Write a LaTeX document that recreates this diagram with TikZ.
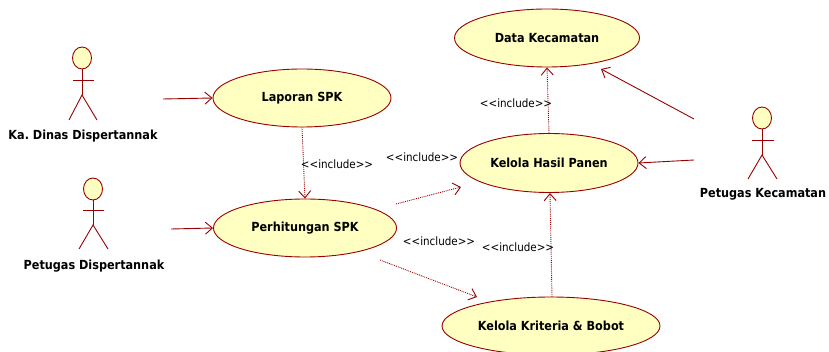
\documentclass[tikz,border=0pt]{standalone}
\usepackage{fontspec}
\setmainfont{DejaVu Sans Condensed}[Ligatures=NoCommon]
\usetikzlibrary{shapes.geometric,arrows.meta}
\definecolor{umlline}{RGB}{153,0,0}
\definecolor{umlfill}{RGB}{255,255,194}
\newcommand{\incltext}{\textless{}\textless{}include\textgreater{}\textgreater{}}
\frenchspacing
\tikzset{
  usecase/.style={ellipse,draw=umlline,fill=umlfill,line width=0.9pt,inner sep=0pt,font=\bfseries\fontsize{12.5}{14}\selectfont},
  assoc/.style={draw=umlline,line width=0.9pt,-{Straight Barb[length=7pt,width=12pt,line width=0.9pt]}},
  incl/.style={draw=umlline,line width=0.9pt,densely dotted,-{Straight Barb[length=7pt,width=12pt,line width=0.9pt]}},
  incllabel/.style={font=\fontsize{11.5}{13}\selectfont,inner sep=0pt},
  actorlabel/.style={font=\bfseries\fontsize{12.5}{14}\selectfont,inner sep=0pt},
  actorhead/.style={ellipse,draw=umlline,fill=umlfill,line width=0.9pt,minimum width=19pt,minimum height=22pt,inner sep=0pt},
  limb/.style={draw=umlline,line width=0.9pt}
}
\begin{document}
\begin{tikzpicture}[x=1pt,y=-1pt]
\useasboundingbox (0,0) rectangle (829,352);
% use cases
\node[usecase,minimum width=178pt,minimum height=58pt] (lap) at (302,98) {Laporan SPK};
\node[usecase,minimum width=183pt,minimum height=58pt] (per) at (305,228) {Perhitungan SPK};
\node[usecase,minimum width=185pt,minimum height=58pt] (dat) at (547,38) {Data Kecamatan};
\node[usecase,minimum width=178pt,minimum height=59pt] (kel) at (549,163) {Kelola Hasil Panen};
\node[usecase,minimum width=218pt,minimum height=58pt] (kri) at (551,326) {Kelola Kriteria \& Bobot};
% actor 1
\node[actorhead] (a1h) at (82,58) {};
\coordinate (a1n) at (82,95);
\draw[limb] (a1h.south) -- (a1n);
\draw[limb] (73,80) -- (94,80);
\draw[limb] (69,120) -- (a1n) -- (97,120);
\node[actorlabel] (a1) at (83,136) {Ka. Dinas Dispertannak};
% actor 2
\node[actorhead] (a2h) at (93,189) {};
\coordinate (a2n) at (93,225);
\draw[limb] (a2h.south) -- (a2n);
\draw[limb] (83,210) -- (104,210);
\draw[limb] (79,249) -- (a2n) -- (108,249);
\node[actorlabel] (a2) at (94,266) {Petugas Dispertannak};
% actor 3
\node[actorhead] (a3h) at (762,118) {};
\coordinate (a3n) at (762,155);
\draw[limb] (a3h.south) -- (a3n);
\draw[limb] (752,140) -- (774,140);
\draw[limb] (748,179) -- (a3n) -- (777,179);
\node[actorlabel] (a3) at (763,194) {Petugas Kecamatan};
% association start points
\coordinate (s1) at (163,99);
\coordinate (s2) at (171,229);
\coordinate (s3) at (694,119);
\coordinate (s4) at (694,160);
\coordinate (d1) at (601,69);
\draw[assoc] (s1) -- (lap.west);
\draw[assoc] (s2) -- (per.west);
\draw[assoc] (s3) -- (d1);
\draw[assoc] (s4) -- (kel.east);
% includes
\draw[incl] (lap.south) -- (per.north);
\node[incllabel] (l1) at (337,164) {\incltext};
\coordinate (p1) at (396,204);
\coordinate (k1) at (461,187);
\draw[incl] (p1) -- (k1);
\node[incllabel] (l2) at (422,157) {\incltext};
\coordinate (p2) at (380,260);
\coordinate (k2) at (477,297);
\draw[incl] (p2) -- (k2);
\node[incllabel] (l3) at (439,241) {\incltext};
\coordinate (r1) at (552,297);
\coordinate (r2) at (550,193);
\draw[incl] (r1) -- (r2);
\node[incllabel] (l4) at (518,247) {\incltext};
\draw[incl] (kel.north) -- (dat.south);
\node[incllabel] (l5) at (516,103) {\incltext};
\end{tikzpicture}
\end{document}
